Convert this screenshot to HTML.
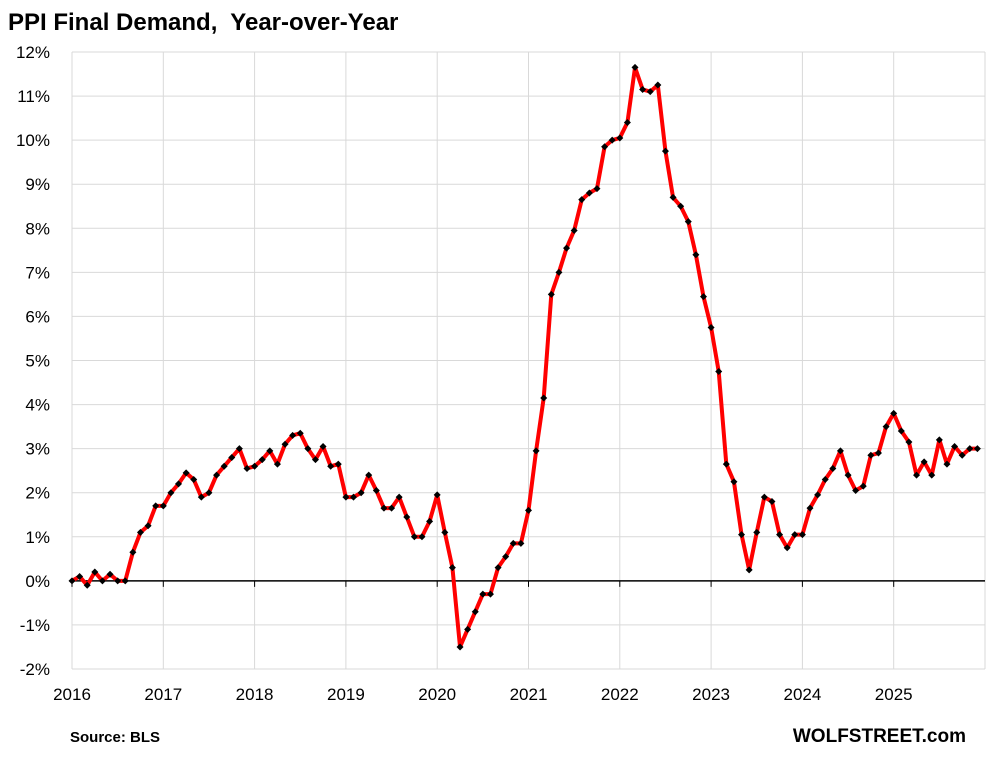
<!DOCTYPE html>
<html><head><meta charset="utf-8"><style>
body{margin:0;background:#fff;font-family:"Liberation Sans",Arial,sans-serif;}
svg text{font-family:"Liberation Sans",Arial,sans-serif;}
</style></head><body>
<svg id="chart" width="992" height="752">
<text x="8" y="30" font-size="24" font-weight="bold" fill="#000">PPI Final Demand,&#160; Year-over-Year</text>
<g id="grid"></g><g id="axes"></g><g id="series"></g>
<text x="70" y="742" font-size="15" font-weight="bold">Source: BLS</text>
<text x="966" y="742" font-size="19" font-weight="bold" text-anchor="end">WOLFSTREET.com</text>
</svg>
<script>
const years=["2016","2017","2018","2019","2020","2021","2022","2023","2024","2025"];
const yTicks=[-2,-1,0,1,2,3,4,5,6,7,8,9,10,11,12];
const ppi2016=[0.0,0.1,-0.1,0.2,0.0,0.15,0.0,0.0,0.65,1.1,1.25,1.7];
const ppi2017=[1.7,2.0,2.2,2.45,2.3,1.9,2.0,2.4,2.6,2.8,3.0,2.55];
const ppi2018=[2.6,2.75,2.95,2.65,3.1,3.3,3.35,3.0,2.75,3.05,2.6,2.65];
const ppi2019=[1.9,1.9,2.0,2.4,2.05,1.65,1.65,1.9,1.45,1.0,1.0,1.35];
const ppi2020=[1.95,1.1,0.3,-1.5,-1.1,-0.7,-0.3,-0.3,0.3,0.55,0.85,0.85];
const ppi2021=[1.6,2.95,4.15,6.5,7.0,7.55,7.95,8.65,8.8,8.9,9.85,10.0];
const ppi2022=[10.05,10.4,11.65,11.15,11.1,11.25,9.75,8.7,8.5,8.15,7.4,6.45];
const ppi2023=[5.75,4.75,2.65,2.25,1.05,0.25,1.1,1.9,1.8,1.05,0.75,1.05];
const ppi2024=[1.05,1.65,1.95,2.3,2.55,2.95,2.4,2.05,2.15,2.85,2.9,3.5];
const ppi2025=[3.8,3.4,3.15,2.4,2.7,2.4,3.2,2.65,3.05,2.85,3.0,3.0];
const values=[].concat(ppi2016,ppi2017,ppi2018,ppi2019,ppi2020,ppi2021,ppi2022,ppi2023,ppi2024,ppi2025);
const X0=72,X1=985,Y0=669,Y1=52;
const xs=m=>X0+(X1-X0)*m/120;
const ys=v=>Y0-(Y0-Y1)*(v+2)/14;
const NS="http://www.w3.org/2000/svg";
function mk(tag,attrs,parent){const e=document.createElementNS(NS,tag);for(const k in attrs)e.setAttribute(k,attrs[k]);parent.appendChild(e);return e;}
const grid=document.getElementById('grid'),axes=document.getElementById('axes'),series=document.getElementById('series');
yTicks.forEach(t=>{
 const y=ys(t);
 const l=mk('line',{x1:X0,x2:X1,y1:y,y2:y,stroke:'#d9d9d9','stroke-width':1},grid);
 
 
 const tx=mk('text',{x:50,y:y+6,'font-size':17,'text-anchor':'end'},axes);
 tx.textContent=t+'%';
 
 
});
mk('line',{x1:X1,x2:X1,y1:Y1,y2:Y0,stroke:'#d9d9d9'},grid);
years.forEach((yr,i)=>{
 const x=xs(i*12);
 const l=mk('line',{x1:x,x2:x,y1:Y1,y2:Y0,stroke:'#d9d9d9'},grid);
 
 
 const tk=mk('line',{x1:x,x2:x,y1:ys(0),y2:ys(0)+6,stroke:'#000'},axes);
 
 
 const tx=mk('text',{x:x,y:700,'font-size':17,'text-anchor':'middle'},axes);
 tx.textContent=yr;
 
 
});
const zl=mk('line',{x1:X0,x2:X1,y1:ys(0),y2:ys(0),stroke:'#000','stroke-width':1.5},axes);


const pl=mk('polyline',{points:values.map((v,i)=>xs(i)+','+ys(v)).join(' '),fill:'none',stroke:'#ff0000','stroke-width':4,'stroke-linejoin':'round'},series);


values.forEach((v,i)=>{
 const x=xs(i),y=ys(v);
 const p=mk('polygon',{points:`${x},${y-3.5} ${x+3.5},${y} ${x},${y+3.5} ${x-3.5},${y}`,fill:'#000'},series);
 
 
});
</script>
</body></html>
